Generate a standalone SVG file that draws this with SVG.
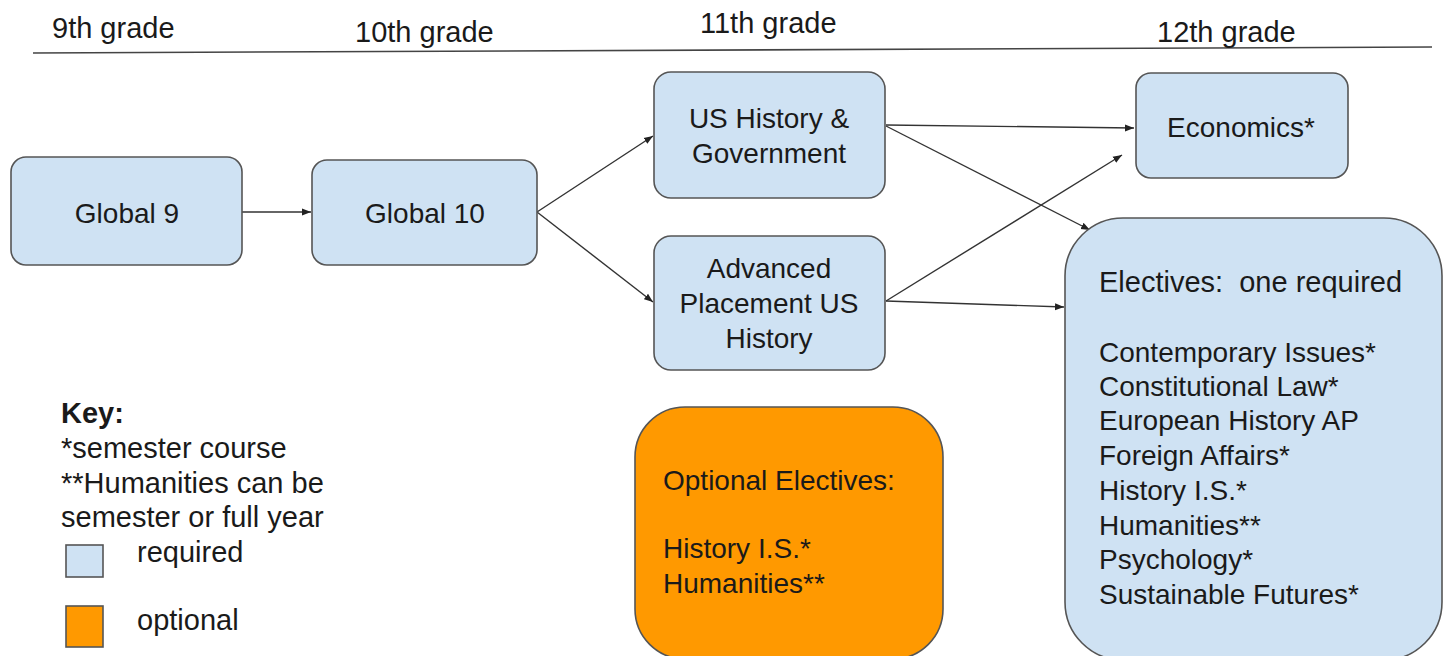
<svg xmlns="http://www.w3.org/2000/svg" width="1444" height="656" viewBox="0 0 1444 656">
<style>
text{font-family:"Liberation Sans",Arial,sans-serif;font-size:28px;fill:#1a1a1a}
.w{font-size:29px}
.c{text-anchor:middle}
.req{fill:#cfe2f3;stroke:#555;stroke-width:1.6}
.opt{fill:#ff9900;stroke:#555;stroke-width:1.6}
.edge{fill:none;stroke:#333;stroke-width:1.4;marker-end:url(#ah)}
</style>
<defs>
<marker id="ah" markerUnits="userSpaceOnUse" markerWidth="10" markerHeight="8" refX="9" refY="4" orient="auto">
<path d="M0,0.5 L9,4 L0,7.5 Z" fill="#222"/>
</marker>
</defs>
<rect width="1444" height="656" fill="#fff"/>
<g id="header">
<line x1="33" y1="53" x2="1432" y2="47" stroke="#444" stroke-width="1.6"/>
<text class="w" x="52" y="38">9th grade</text>
<text class="w" x="355" y="42">10th grade</text>
<text class="w" x="700" y="33">11th grade</text>
<text class="w" x="1157" y="42">12th grade</text>
</g>
<g id="connectors">
<line class="edge" x1="242" y1="212" x2="311" y2="212"/>
<line class="edge" x1="537" y1="212" x2="653" y2="136"/>
<line class="edge" x1="537" y1="212" x2="653" y2="302"/>
<line class="edge" x1="886" y1="125" x2="1134" y2="128"/>
<line class="edge" x1="886" y1="126" x2="1090" y2="230"/>
<line class="edge" x1="886" y1="301" x2="1122" y2="155"/>
<line class="edge" x1="886" y1="301" x2="1064" y2="307"/>
</g>
<g id="global9">
<rect class="req" x="11" y="157" width="231" height="108" rx="15"/>
<text class="c" x="127" y="223">Global 9</text>
</g>
<g id="global10">
<rect class="req" x="312" y="160" width="225" height="105" rx="15"/>
<text class="c" x="425" y="223">Global 10</text>
</g>
<g id="ushistory">
<rect class="req" x="654" y="72" width="231" height="126" rx="17"/>
<text class="c" x="769" y="128">US History &amp;</text>
<text class="c" x="769" y="163">Government</text>
</g>
<g id="apush">
<rect class="req" x="654" y="236" width="231" height="134" rx="17"/>
<text class="c" x="769" y="278">Advanced</text>
<text class="c" x="769" y="313">Placement US</text>
<text class="c" x="769" y="348">History</text>
</g>
<g id="economics">
<rect class="req" x="1136" y="73" width="212" height="105" rx="15"/>
<text class="c" x="1241" y="137">Economics*</text>
</g>
<g id="electives">
<rect class="req" x="1065" y="218" width="377" height="442" rx="58"/>
<text class="w" x="1099" y="292" xml:space="preserve">Electives:  one required</text>
<text x="1099" y="362">Contemporary Issues*</text>
<text x="1099" y="396">Constitutional Law*</text>
<text x="1099" y="430">European History AP</text>
<text x="1099" y="465">Foreign Affairs*</text>
<text x="1099" y="500">History I.S.*</text>
<text x="1099" y="535">Humanities**</text>
<text x="1099" y="569">Psychology*</text>
<text x="1099" y="604">Sustainable Futures*</text>
</g>
<g id="optional">
<rect class="opt" x="635" y="407" width="308" height="252" rx="50"/>
<text x="663" y="490">Optional Electives:</text>
<text x="663" y="558">History I.S.*</text>
<text x="663" y="593">Humanities**</text>
</g>
<g id="key">
<text class="w" x="61" y="423" font-weight="bold">Key:</text>
<text class="w" x="61" y="458">*semester course</text>
<text class="w" x="61" y="493">**Humanities can be</text>
<text class="w" x="61" y="527">semester or full year</text>
<rect class="req" x="66" y="545" width="37" height="32"/>
<text class="w" x="137" y="562">required</text>
<rect class="opt" x="66" y="606" width="37" height="41"/>
<text class="w" x="137" y="630">optional</text>
</g>
</svg>
